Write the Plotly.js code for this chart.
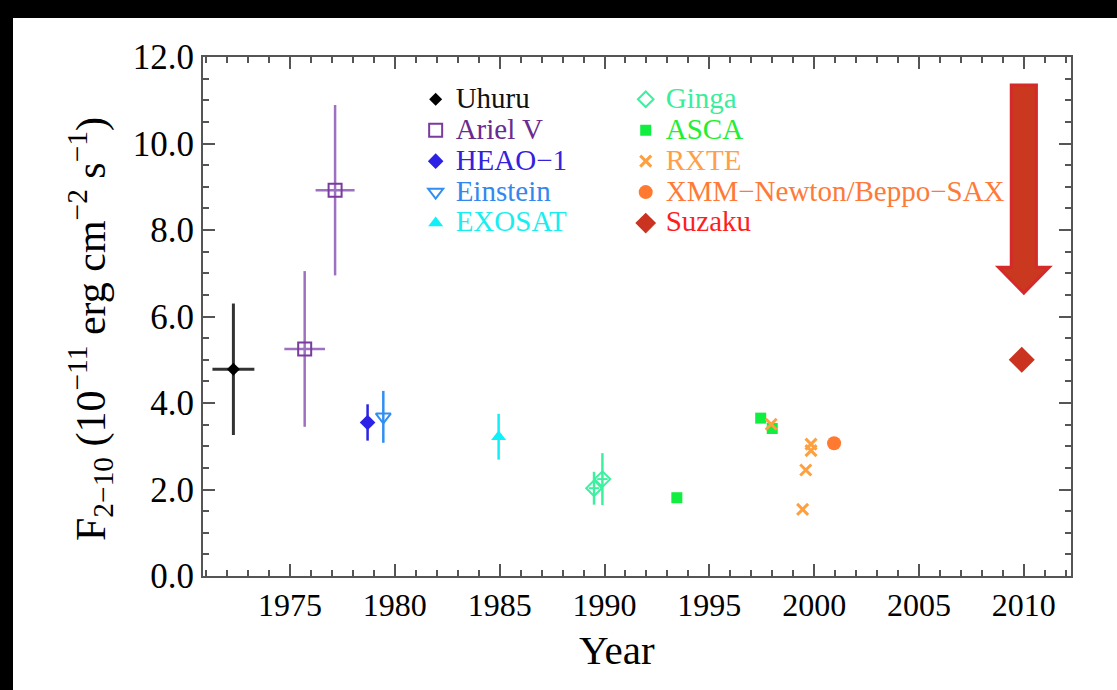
<!DOCTYPE html>
<html>
<head>
<meta charset="utf-8">
<script src="https://cdn.plot.ly/plotly-3.0.1.min.js"></script>
<style>
  html, body { margin: 0; padding: 0; background: #000; width: 1117px; height: 690px; overflow: hidden; }
  #chart { position: absolute; left: 13px; top: 18px; width: 1104px; height: 672px; background: #fff; }
</style>
</head>
<body>
<div id="chart"></div>
<script>
// ---- Data ----
const uhuruYear = [1972.3];
const uhuruFlux = [4.78];
const uhuruErrY = [1.52];
const uhuruErrX = [1.0];

const arielYear = [1975.7, 1977.15];
const arielFlux = [5.25, 8.92];
const arielErrY = [1.8, 1.97];
const arielErrX = [0.97, 0.93];

const heaoYear = [1978.7];
const heaoFlux = [3.55];
const heaoErrY = [0.42];

const einsteinYear = [1979.45];
const einsteinFlux = [3.68];
const einsteinErrY = [0.6];

const exosatYear = [1984.95];
const exosatFlux = [3.22];
const exosatErrY = [0.53];

const gingaYear = [1989.5, 1989.9];
const gingaFlux = [2.03, 2.24];
const gingaErrY = [0.38, 0.6];
const gingaErrX = [0.25, 0.25];

const ascaYear = [1993.45, 1997.45, 1998.0];
const ascaFlux = [1.81, 3.65, 3.41];

const rxteYear = [1997.95, 1999.85, 1999.85, 1999.6, 1999.45];
const rxteFlux = [3.51, 3.05, 2.9, 2.45, 1.54];

const xmmYear = [2000.95];
const xmmFlux = [3.07];

const suzakuYear = [2009.9];
const suzakuFlux = [5.0];

const xTickVals = [1975, 1980, 1985, 1990, 1995, 2000, 2005, 2010];
const yTickVals = [0, 2, 4, 6, 8, 10, 12];

// ---- Styling ----
const serif = "Liberation Serif, Times New Roman, serif";
const C = {
  uhuru: '#000000', ariel: '#7A3A9E', arielErr: '#9E70C0', heao: '#2B22E6',
  einstein: '#2F8FF2', exosat: '#10F0F8', ginga: '#3DF0A0', asca: '#10EE40',
  rxte: '#FFA040', xmm: '#FF7A30', suzaku: '#C9331F', suzakuText: '#FF1E1E'
};
function lbl(t, c) { return '<span style="color:' + c + ';font-size:29px">' + t + '</span>'; }

const traces = [
  { name: lbl('Uhuru', '#111'), x: uhuruYear, y: uhuruFlux, mode: 'markers', type: 'scatter', legend: 'legend',
    marker: { symbol: 'diamond', size: 10, color: C.uhuru },
    error_y: { type: 'data', array: uhuruErrY, color: '#333', thickness: 3, width: 0 },
    error_x: { type: 'data', array: uhuruErrX, color: '#333', thickness: 3, width: 0 } },
  { name: lbl('Ariel V', '#6A2B8E'), x: arielYear, y: arielFlux, mode: 'markers', type: 'scatter', legend: 'legend',
    marker: { symbol: 'square-open', size: 13, color: C.ariel, line: { width: 2, color: C.ariel } },
    error_y: { type: 'data', array: arielErrY, color: C.arielErr, thickness: 2.5, width: 0 },
    error_x: { type: 'data', array: arielErrX, color: C.arielErr, thickness: 2.5, width: 0 } },
  { name: lbl('HEAO−1', '#3322DD'), x: heaoYear, y: heaoFlux, mode: 'markers', type: 'scatter', legend: 'legend',
    marker: { symbol: 'diamond', size: 12, color: C.heao },
    error_y: { type: 'data', array: heaoErrY, color: C.heao, thickness: 2.5, width: 0 } },
  { name: lbl('Einstein', '#3388EE'), x: einsteinYear, y: einsteinFlux, mode: 'markers', type: 'scatter', legend: 'legend',
    marker: { symbol: 'triangle-down-open', size: 13, color: C.einstein, line: { width: 2, color: C.einstein } },
    error_y: { type: 'data', array: einsteinErrY, color: C.einstein, thickness: 2.5, width: 0 } },
  { name: lbl('EXOSAT', '#18EEF0'), x: exosatYear, y: exosatFlux, mode: 'markers', type: 'scatter', legend: 'legend',
    marker: { symbol: 'triangle-up', size: 13, color: C.exosat },
    error_y: { type: 'data', array: exosatErrY, color: C.exosat, thickness: 2.5, width: 0 } },
  { name: lbl('Ginga', '#38EE9E'), x: gingaYear, y: gingaFlux, mode: 'markers', type: 'scatter', legend: 'legend2',
    marker: { symbol: 'diamond-open', size: 12, color: C.ginga, line: { width: 2, color: C.ginga } },
    error_y: { type: 'data', array: gingaErrY, color: C.ginga, thickness: 2.5, width: 0 },
    error_x: { type: 'data', array: gingaErrX, color: C.ginga, thickness: 2, width: 0 } },
  { name: lbl('ASCA', '#22EE33'), x: ascaYear, y: ascaFlux, mode: 'markers', type: 'scatter', legend: 'legend2',
    marker: { symbol: 'square', size: 11, color: C.asca } },
  { name: lbl('RXTE', '#FFA048'), x: rxteYear, y: rxteFlux, mode: 'markers', type: 'scatter', legend: 'legend2',
    marker: { symbol: 'x-thin', size: 11, color: C.rxte, line: { width: 3, color: C.rxte } } },
  { name: lbl('XMM−Newton/Beppo−SAX', '#FF7A38'), x: xmmYear, y: xmmFlux, mode: 'markers', type: 'scatter', legend: 'legend2',
    marker: { symbol: 'circle', size: 14, color: C.xmm } },
  { name: lbl('Suzaku', C.suzakuText), x: suzakuYear, y: suzakuFlux, mode: 'markers', type: 'scatter', legend: 'legend2',
    marker: { symbol: 'diamond', size: 20, color: C.suzaku } }
];

// Decorative arrow above the Suzaku point
const ax = suzakuYear[0] + 0.1;
const shaftHalf = 0.6, headHalf = 1.21, yTop = 11.35, yHead = 7.14, yTip = 6.54;
const arrowPath = 'M ' + (ax - shaftHalf) + ',' + yTop + ' L ' + (ax + shaftHalf) + ',' + yTop +
  ' L ' + (ax + shaftHalf) + ',' + yHead + ' L ' + (ax + headHalf) + ',' + yHead +
  ' L ' + ax + ',' + yTip + ' L ' + (ax - headHalf) + ',' + yHead +
  ' L ' + (ax - shaftHalf) + ',' + yHead + ' Z';

const axisCommon = {
  showline: true, linecolor: '#555', linewidth: 2, mirror: 'allticks',
  ticks: 'inside', ticklen: 12, tickwidth: 2, tickcolor: '#555',
  showgrid: false, zeroline: false,
  tickfont: { family: serif, size: 32, color: '#000' }
};

const M = { l: 190, r: 46, t: 39, b: 114 };
const W = 1104, H = 672;
const plotW = W - M.l - M.r, plotH = H - M.t - M.b;
// page-pixel -> paper fraction (chart div sits at 13px, 18px on the page)
function px(pageX) { return (pageX - 13 - M.l) / plotW; }
function py(pageY) { return 1 - (pageY - 18 - M.t) / plotH; }

const layout = {
  width: W, height: H,
  paper_bgcolor: '#fff', plot_bgcolor: '#fff',
  margin: M,
  showlegend: true,
  xaxis: Object.assign({}, axisCommon, {
    range: [1970.85, 2012.25], tickvals: xTickVals, ticktext: xTickVals.map(String),
    minor: { dtick: 1, tick0: 1970, ticks: 'inside', ticklen: 6, tickwidth: 2, tickcolor: '#555' }
  }),
  yaxis: Object.assign({}, axisCommon, {
    range: [0, 12], tickvals: yTickVals, ticktext: yTickVals.map(v => v.toFixed(1)),
    tickfont: { family: serif, size: 35, color: '#000' },
    minor: { dtick: 0.5, tick0: 0, ticks: 'inside', ticklen: 6, tickwidth: 2, tickcolor: '#555' }
  }),
  legend: { x: 0.245, y: 0.958, xanchor: 'left', yanchor: 'top', bgcolor: 'rgba(0,0,0,0)',
    font: { family: serif, size: 21.5 }, tracegroupgap: 0, itemsizing: 'trace' },
  legend2: { x: 0.487, y: 0.958, xanchor: 'left', yanchor: 'top', bgcolor: 'rgba(0,0,0,0)',
    font: { family: serif, size: 21.5 }, tracegroupgap: 0, itemsizing: 'trace' },
  annotations: [
    { text: 'Year', xref: 'paper', yref: 'paper', x: px(617), y: py(650),
      xanchor: 'center', yanchor: 'middle', showarrow: false,
      font: { family: serif, size: 41, color: '#000' } },
    { text: 'F<sub>2−10</sub> (10<sup>−11</sup> erg cm<sup>−2</sup> s<sup>−1</sup>)',
      xref: 'paper', yref: 'paper', x: px(90), y: py(329), textangle: -90,
      xanchor: 'center', yanchor: 'middle', showarrow: false,
      font: { family: serif, size: 42, color: '#000' } }
  ],
  shapes: [{ type: 'path', xref: 'x', yref: 'y', path: arrowPath,
    fillcolor: '#C9381F', line: { color: '#D42A2A', width: 3 } }]
};

Plotly.newPlot('chart', traces, layout, { displayModeBar: false, staticPlot: true });
</script>
</body>
</html>
